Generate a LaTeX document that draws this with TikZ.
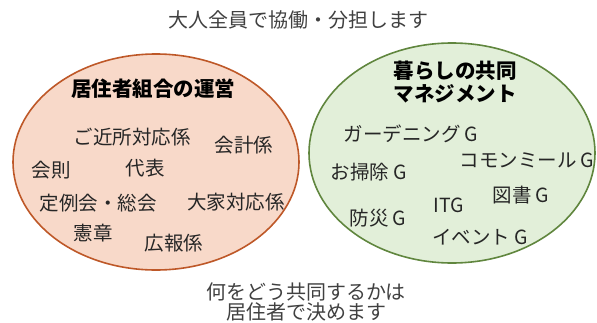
\documentclass[tikz,border=0pt]{standalone}
\usepackage{fontspec}
\newfontfamily\jp{Noto Sans CJK JP}
\definecolor{kumiaifill}{RGB}{248,217,201}
\definecolor{kumiaiedge}{RGB}{190,88,40}
\definecolor{kurashifill}{RGB}{226,239,217}
\definecolor{kurashiedge}{RGB}{96,134,62}
\begin{document}
\begin{tikzpicture}[x=1pt,y=-1pt,
    item/.style={font=\jp\fontsize{19.5}{21}\selectfont,text=black!85,inner sep=1pt},
    head/.style={font=\jp\bfseries\fontsize{20.5}{23}\selectfont,text=black,inner sep=1pt,align=center},
    note/.style={font=\jp\fontsize{20}{20}\selectfont,text=black!75,inner sep=1pt,align=center}]
  \useasboundingbox (0,0) rectangle (597,322);

  %% the two circles
  \draw[kumiaiedge,fill=kumiaifill,line width=1.6pt] (156,162) ellipse [x radius=143,y radius=108];
  \draw[kurashiedge,fill=kurashifill,line width=1.6pt] (452,153) ellipse [x radius=143,y radius=110];

  %% top and bottom
  \node[note] (title) at (298,20) {大人全員で協働・分担します};
  \node[note] (decide) at (306,302) {何をどう共同するかは\\居住者で決めます};

  %% left circle
  \node[head] (kumiai) at (153,89) {居住者組合の運営};
  \node[item] (kinjo) at (132,137) {ご近所対応係};
  \node[item] (kaikei) at (244,145) {会計係};
  \node[item] (kaisoku) at (51,170) {会則};
  \node[item] (daihyo) at (145,168) {代表};
  \node[item] (teirei) at (98,203) {定例会・総会};
  \node[item] (ooya) at (236,202) {大家対応係};
  \node[item] (kensho) at (93,233) {憲章};
  \node[item] (koho) at (174,243) {広報係};

  %% right circle
  \node[head] (kurashi) at (455,82) {暮らしの共同\\マネジメント};
  \node[item] (garden) at (411,134) {ガーデニング G};
  \node[item] (common) at (527,160) {コモンミール G};
  \node[item] (soji) at (369,172) {お掃除 G};
  \node[item] (tosho) at (521,195) {図書 G};
  \node[item] (itg) at (449,205) {ITG};
  \node[item] (bosai) at (378,218) {防災 G};
  \node[item] (event) at (480,237) {イベント G};
\end{tikzpicture}
\end{document}
